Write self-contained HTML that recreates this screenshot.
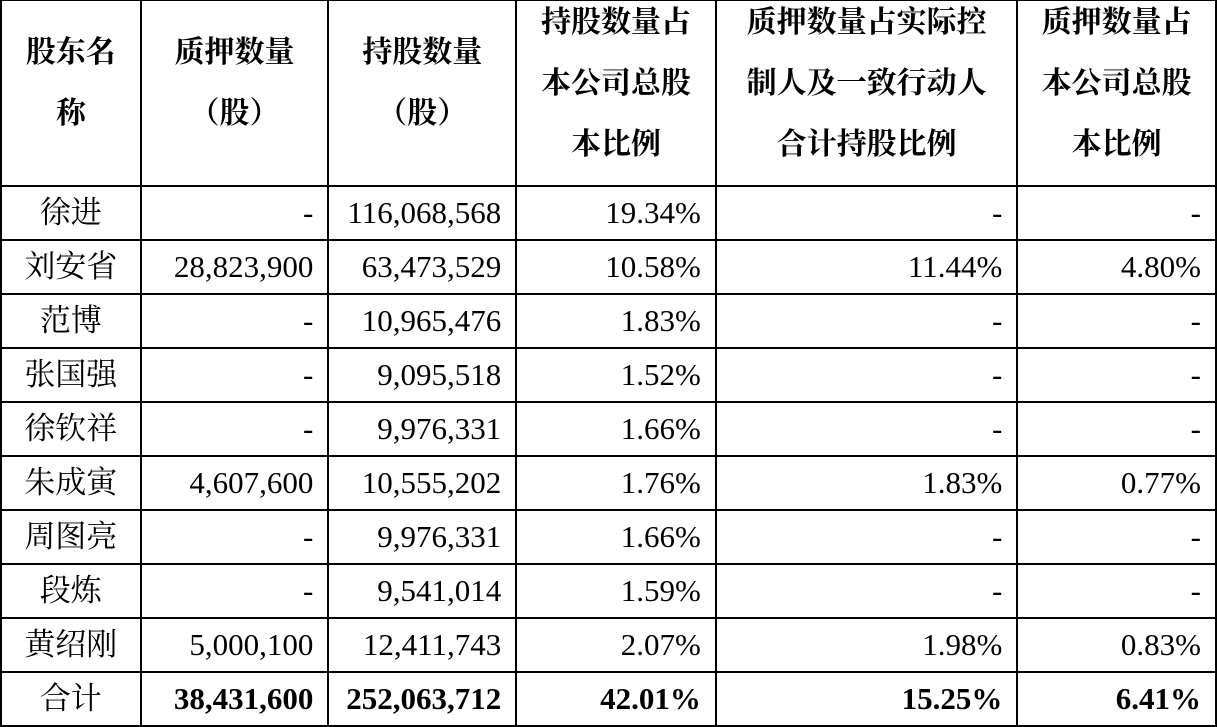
<!DOCTYPE html>
<html><head><meta charset="utf-8"><style>
body{margin:0;background:#fff;width:1217px;height:727px;overflow:hidden}
table{position:absolute;left:0;top:-1px;border-collapse:collapse;table-layout:fixed;font-family:"Liberation Serif","Noto Serif CJK SC",serif;font-size:31px;color:#000}
td{border:2px solid #000;padding:0 14px 0 0;text-align:right;height:52px;line-height:52px;white-space:nowrap;overflow:hidden}
td.n{text-align:center;padding:0}
tr.h td{text-align:center;padding:0;line-height:61px;height:184px;vertical-align:middle;font-weight:bold;font-size:30px}
tr.h td div{position:relative;top:-10px}
tr.t td{font-weight:bold}
tr.t td.n{font-weight:normal}
</style></head><body>
<table>
<colgroup><col style="width:140px"><col style="width:188px"><col style="width:188px"><col style="width:200px"><col style="width:302px"><col style="width:199px"></colgroup>
<tr class="h"><td><div>股东名<br>称</div></td><td><div>质押数量<br>（股）</div></td><td><div>持股数量<br>（股）</div></td><td><div>持股数量占<br>本公司总股<br>本比例</div></td><td><div>质押数量占实际控<br>制人及一致行动人<br>合计持股比例</div></td><td><div>质押数量占<br>本公司总股<br>本比例</div></td></tr>
<tr><td class="n">徐进</td><td>-</td><td>116,068,568</td><td>19.34%</td><td>-</td><td>-</td></tr>
<tr><td class="n">刘安省</td><td>28,823,900</td><td>63,473,529</td><td>10.58%</td><td>11.44%</td><td>4.80%</td></tr>
<tr><td class="n">范博</td><td>-</td><td>10,965,476</td><td>1.83%</td><td>-</td><td>-</td></tr>
<tr><td class="n">张国强</td><td>-</td><td>9,095,518</td><td>1.52%</td><td>-</td><td>-</td></tr>
<tr><td class="n">徐钦祥</td><td>-</td><td>9,976,331</td><td>1.66%</td><td>-</td><td>-</td></tr>
<tr><td class="n">朱成寅</td><td>4,607,600</td><td>10,555,202</td><td>1.76%</td><td>1.83%</td><td>0.77%</td></tr>
<tr><td class="n">周图亮</td><td>-</td><td>9,976,331</td><td>1.66%</td><td>-</td><td>-</td></tr>
<tr><td class="n">段炼</td><td>-</td><td>9,541,014</td><td>1.59%</td><td>-</td><td>-</td></tr>
<tr><td class="n">黄绍刚</td><td>5,000,100</td><td>12,411,743</td><td>2.07%</td><td>1.98%</td><td>0.83%</td></tr>
<tr class="t"><td class="n">合计</td><td>38,431,600</td><td>252,063,712</td><td>42.01%</td><td>15.25%</td><td>6.41%</td></tr>
</table>
</body></html>
